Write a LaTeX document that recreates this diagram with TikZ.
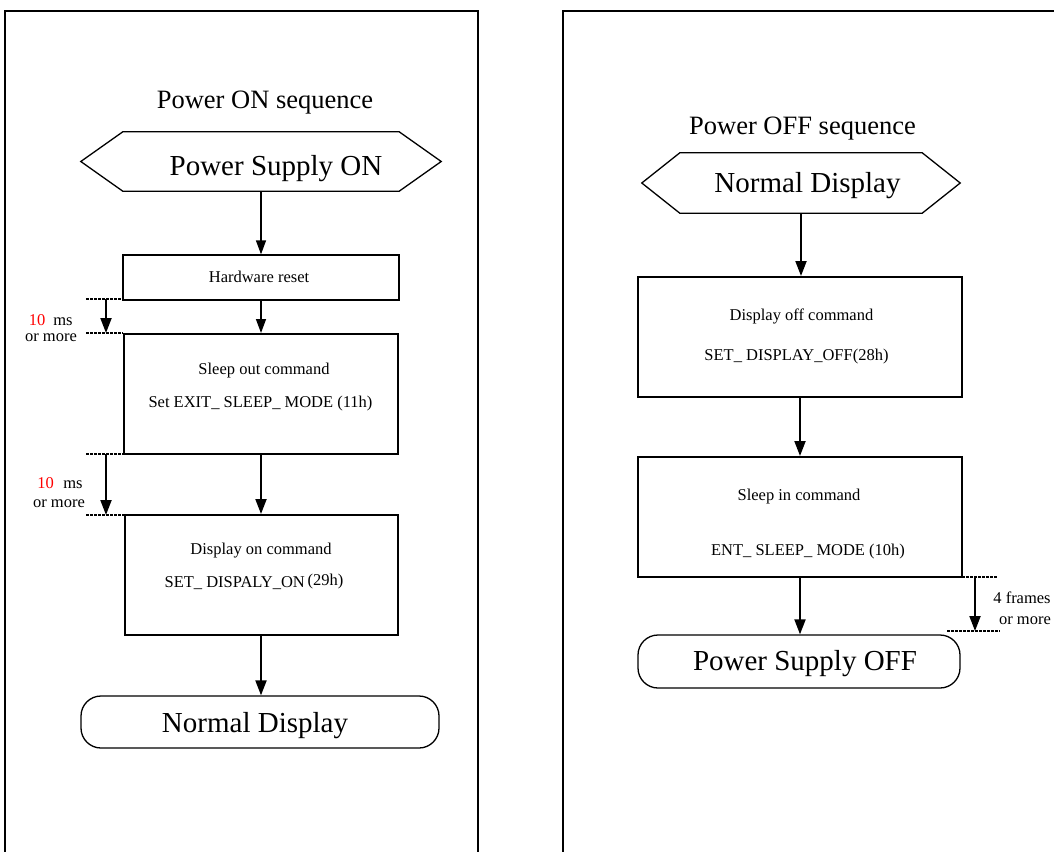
\documentclass[tikz,border=0pt]{standalone}
\usepackage{fontspec}
\setmainfont{Liberation Serif}
\usetikzlibrary{arrows.meta}
\definecolor{tred}{RGB}{255,0,0}
\begin{document}
\begin{tikzpicture}[x=1pt,y=-1pt,
 frame/.style={line width=2pt},
 cmdbox/.style={draw, line width=2pt, inner sep=0pt},
 thinbox/.style={draw, line width=1.3pt, inner sep=0pt},
 term/.style={draw, line width=1.3pt, rounded corners=20pt, inner sep=0pt},
 hexnode/.style={inner sep=0pt},
 hexline/.style={line width=1.3pt, line join=miter},
 arr/.style={line width=2pt, -{Triangle[length=15pt,width=11pt]}},
 thinarr/.style={line width=1.4pt, -{Triangle[length=14pt,width=10pt]}},
 timing/.style={line width=2pt, dash pattern=on 2.5pt off 1.5pt},
 big/.style={font=\fontsize{29}{34}\selectfont},
 ttl/.style={font=\fontsize{26.5}{31}\selectfont},
 small/.style={font=\fontsize{16.5}{20}\selectfont},
 lbl/.style={anchor=base, inner sep=0pt},
]
\useasboundingbox (0,0) rectangle (1054,851);

% frames
\draw[frame] (5,852) -- (5,11) -- (478,11) -- (478,852);
\draw[frame] (563,852) -- (563,11) -- (1056,11);

% ---------------- left: Power ON sequence
\node[lbl, ttl] (t1) at (265,108) {Power ON sequence};

\node[hexnode, minimum width=360pt, minimum height=59pt] (hex1) at (261,161.5) {};
\draw[hexline] (hex1.west) -- ([xshift=42pt]hex1.north west) -- ([xshift=-42pt]hex1.north east)
  -- (hex1.east) -- ([xshift=-42pt]hex1.south east) -- ([xshift=42pt]hex1.south west) -- cycle;
\node[lbl, big] (hex1t) at (276,175) {Power Supply ON};

\node[thinbox, minimum width=276pt, minimum height=45pt] (hw) at (261,277.5) {};
\node[lbl, small] (hwt) at (259,282) {Hardware reset};

\node[cmdbox, minimum width=274pt, minimum height=120pt] (so) at (261,394) {};
\node[lbl, small] (so1) at (264,374) {Sleep out command};
\node[lbl, small] (so2) at (260.5,407) {Set EXIT\_ SLEEP\_ MODE (11h)};

\node[cmdbox, minimum width=273pt, minimum height=120pt] (don) at (261,575) {};
\node[lbl, small] (don1) at (261,554) {Display on command};
\node[lbl, small] (don2) at (254,587) {SET\_ DISPALY\_ON\,\raisebox{2pt}{(29h)}};

\node[term, minimum width=358pt, minimum height=52pt] (nd1) at (260,722) {};
\node[lbl, big] (nd1t) at (255,732) {Normal Display};

\draw[thinarr] (hex1.south) -- (hex1.south |- hw.north);
\draw[thinarr] (hw.south) -- (hw.south |- so.north);
\draw[arr] (so.south) -- (so.south |- don.north);
\draw[arr] (don.south) -- (don.south |- nd1.north);

% timing 1
\coordinate (a1) at (86,299);
\coordinate (a2) at (106,299);
\coordinate (a3) at (106,333);
\coordinate (a4) at (86,333);
\draw[timing] (a1) -- (a1 -| hw.west);
\draw[timing] (a4) -- (a4 -| so.west);
\draw[arr] (a2) -- (a3);
\node[lbl, small, text=tred] (l1a) at (37,325) {10};
\node[lbl, small] (l1b) at (63,325) {ms};
\node[lbl, small] (l1c) at (51,341) {or more};

% timing 2
\coordinate (b1) at (86,454);
\coordinate (b2) at (106,454);
\coordinate (b3) at (106,515);
\coordinate (b4) at (86,515);
\draw[timing] (b1) -- (b1 -| so.west);
\draw[timing] (b4) -- (b4 -| don.west);
\draw[arr] (b2) -- (b3);
\node[lbl, small, text=tred] (l2a) at (45.5,488) {10};
\node[lbl, small] (l2b) at (73,488) {ms};
\node[lbl, small] (l2c) at (59,507) {or more};

% ---------------- right: Power OFF sequence
\node[lbl, ttl] (t2) at (802.5,134) {Power OFF sequence};

\node[hexnode, minimum width=318pt, minimum height=60pt] (hex2) at (801,183) {};
\draw[hexline] (hex2.west) -- ([xshift=38pt]hex2.north west) -- ([xshift=-38pt]hex2.north east)
  -- (hex2.east) -- ([xshift=-38pt]hex2.south east) -- ([xshift=38pt]hex2.south west) -- cycle;
\node[lbl, big] (hex2t) at (807.5,192) {Normal Display};

\node[cmdbox, minimum width=324pt, minimum height=120pt] (doff) at (800,337) {};
\node[lbl, small] (doff1) at (801.5,320) {Display off command};
\node[lbl, small] (doff2) at (796.5,360) {SET\_ DISPLAY\_OFF(28h)};

\node[cmdbox, minimum width=324pt, minimum height=120pt] (sin) at (800,517) {};
\node[lbl, small] (sin1) at (799,500) {Sleep in command};
\node[lbl, small] (sin2) at (808,555) {ENT\_ SLEEP\_ MODE (10h)};

\node[term, minimum width=322pt, minimum height=53pt] (psoff) at (799,661.5) {};
\node[lbl, big] (psofft) at (805,670) {Power Supply OFF};

\draw[arr] (hex2.south) -- (hex2.south |- doff.north);
\draw[arr] (doff.south) -- (doff.south |- sin.north);
\draw[arr] (sin.south) -- (sin.south |- psoff.north);

% timing 3
\coordinate (c1) at (938,577);
\coordinate (c2) at (997,577);
\coordinate (c3) at (975,577);
\coordinate (c4) at (975,631);
\coordinate (c5) at (947,631);
\coordinate (c6) at (1000,631);
\draw[timing] (c1) -- (c2);
\draw[timing] (c5) -- (c6);
\draw[arr] (c3) -- (c4);
\node[lbl, small] (l3a) at (1022,603) {4 frames};
\node[lbl, small] (l3b) at (1025,624) {or more};
\end{tikzpicture}
\end{document}
